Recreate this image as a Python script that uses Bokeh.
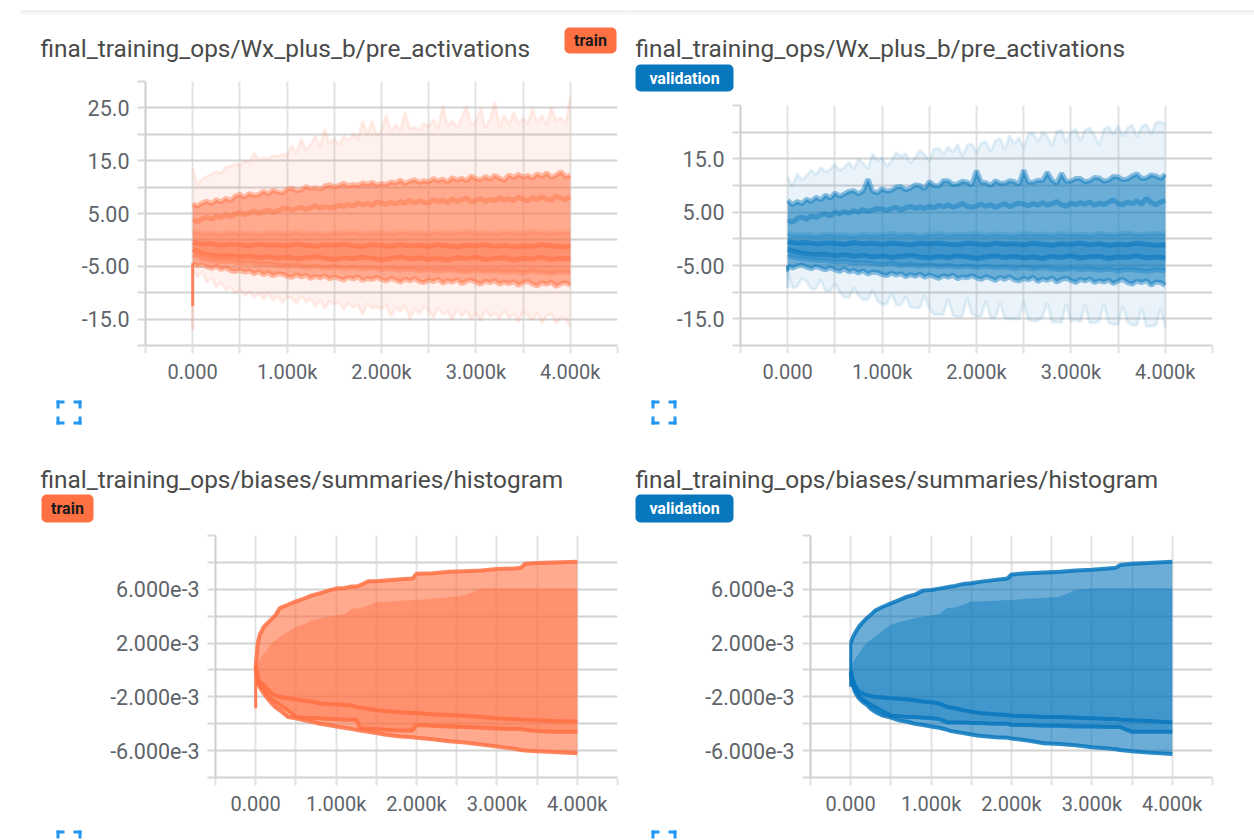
from bokeh.plotting import figure
from bokeh.layouts import column, row
from bokeh.models import FixedTicker, Label, BoxAnnotation, Range1d
from bokeh.embed import file_html
from bokeh.resources import INLINE

TITLE_ACT = "final_training_ops/Wx_plus_b/pre_activations"
TITLE_BIAS = "final_training_ops/biases/summaries/histogram"
ORANGE = "#ff7043"
BLUE = "#0877bd"

X_TICKS = [-500, 0, 500, 1000, 1500, 2000, 2500, 3000, 3500, 4000, 4500]
X_LABELS = {0: "0.000", 1000: "1.000k", 2000: "2.000k", 3000: "3.000k", 4000: "4.000k"}
Y_ACT_TICKS_T = [-20, -15, -10, -5, 0, 5, 10, 15, 20, 25, 30]
Y_ACT_TICKS_V = [-20, -15, -10, -5, 0, 5, 10, 15, 20, 25]
Y_ACT_LABELS = {25: "25.0", 15: "15.0", 5: "5.00", -5: "-5.00", -15: "-15.0"}
Y_ACT_LABELS_V = {15: "15.0", 5: "5.00", -5: "-5.00", -15: "-15.0"}
Y_BIAS_TICKS = [-8e-3, -6e-3, -4e-3, -2e-3, 0, 2e-3, 4e-3, 6e-3, 8e-3, 10e-3]
Y_BIAS_LABELS = {6e-3: "6.000e-3", 2e-3: "2.000e-3", -2e-3: "-2.000e-3", -6e-3: "-6.000e-3"}

STEP100 = list(range(0, 4001, 100))
STEP50 = list(range(0, 4001, 50))

# pre_activations, train
T_MAX = [13.5,10.5,11.5,12.0,12.5,13.0,12.6,13.8,14.0,14.4,
         14.1,15.0,14.6,16.5,15.2,15.6,15.3,16.0,15.8,16.2,
         16.0,17.9,16.4,19.2,17.0,18.0,19.8,17.6,21.0,18.2,
         19.2,18.0,19.6,18.8,20.2,19.0,22.5,20.0,22.6,19.6,
         20.8,23.8,20.4,21.8,20.6,24.3,21.0,21.4,20.8,22.0,
         21.4,22.8,21.0,25.5,21.6,22.6,21.2,23.2,25.4,21.8,
         22.4,25.0,21.2,22.8,26.2,21.4,23.6,21.8,24.2,22.0,
         23.0,22.0,24.8,22.2,23.6,21.8,25.2,22.4,23.2,21.9,27.0]
T_P93 = [6.8,6.4,7.0,7.3,6.9,7.6,7.2,7.9,7.4,8.3,8.6,8.1,8.8,8.4,8.6,9.2,8.7,9.4,9.1,8.9,
         9.6,9.8,9.3,9.5,10.1,9.7,9.9,9.6,10.2,10.4,10.1,10.3,10.7,10.2,10.5,10.3,10.8,10.5,10.9,10.4,
         10.7,10.5,11.0,10.8,11.3,10.7,11.1,11.4,10.9,11.2,11.0,11.6,11.2,11.5,11.0,11.8,11.3,11.7,11.2,12.1,
         11.6,11.4,12.0,11.5,12.2,11.7,11.3,12.3,11.8,12.4,11.9,12.2,11.7,12.5,12.0,12.7,11.8,12.3,12.9,12.0,12.2]
T_P84 = [3.8,3.4,4.0,4.3,3.9,4.5,4.2,4.8,4.4,4.9,5.2,4.8,5.1,5.5,5.0,5.4,5.7,5.2,5.5,5.9,
         6.0,5.6,5.9,6.2,5.8,6.1,6.5,6.0,6.3,6.1,6.2,6.6,6.3,6.7,6.4,7.0,6.6,6.9,6.5,7.2,
         7.0,6.7,7.1,6.8,7.3,6.9,7.5,7.0,7.4,7.1,7.0,7.6,7.2,7.5,7.1,7.8,7.3,7.6,7.9,7.2,
         7.5,7.8,7.3,7.7,7.4,8.0,7.5,7.8,7.4,8.1,7.7,7.4,8.0,7.6,8.2,7.7,7.5,8.3,7.9,7.6,8.2]
T_P69 = [1.6,1.2,1.3,1.1,1.4,1.2,1.3,1.1,1.4,1.3,1.2,1.5,1.2,1.3,1.1,1.4,1.3,1.5,1.2,1.3,
         1.4,1.2,1.5,1.3,1.4,1.2,1.5,1.3,1.4,1.6,1.3,1.4,1.2,1.5,1.4,1.3,1.6,1.4,1.3,1.5,1.4]
T_P50 = [-0.4,-0.8,-0.7,-1.0,-0.8,-0.9,-1.1,-0.8,-1.0,-0.9,-1.1,-0.8,-1.0,-1.2,-0.9,-1.0,-0.8,-1.1,-1.2,-0.9,
         -1.0,-1.2,-0.9,-1.1,-1.0,-1.2,-0.9,-1.1,-1.3,-1.0,-1.1,-0.9,-1.2,-1.0,-1.3,-1.1,-1.2,-0.9,-1.1,-1.3,-1.2]
T_P31 = [-1.8,-2.6,-2.9,-3.1,-3.0,-3.3,-3.1,-3.4,-3.2,-3.5,-3.3,-3.6,-3.4,-3.2,-3.5,-3.7,-3.4,-3.6,-3.3,-3.5,
         -3.8,-3.5,-3.3,-3.6,-3.4,-3.7,-3.5,-3.8,-3.4,-3.6,-3.3,-3.7,-3.5,-3.4,-3.8,-3.5,-3.6,-3.3,-3.7,-3.5,-3.6]
T_P16 = [-2.9,-3.6,-3.9,-4.1,-4.0,-4.4,-4.2,-4.6,-4.5,-4.8,-5.0,-4.8,-5.2,-5.0,-5.3,-5.1,-5.4,-5.2,-5.5,-5.3,
         -5.6,-5.4,-5.7,-5.5,-5.8,-5.6,-5.9,-5.6,-5.8,-6.0,-5.7,-6.0,-5.8,-6.1,-5.9,-6.2,-5.9,-6.1,-6.3,-6.0,-6.2]
T_P7 = [-4.4,-4.9,-4.7,-5.1,-5.4,-5.0,-5.6,-5.3,-5.8,-6.0,-5.7,-6.1,-5.9,-6.4,-6.0,-6.6,-6.2,-6.8,-6.4,-6.5,
        -6.9,-7.1,-6.6,-7.0,-6.7,-7.3,-6.9,-7.2,-6.8,-7.4,-7.0,-7.3,-7.6,-7.1,-7.4,-7.0,-7.7,-7.3,-7.5,-7.1,
        -7.5,-7.8,-7.3,-7.6,-8.0,-7.4,-7.8,-7.3,-7.9,-8.1,-7.6,-7.9,-7.4,-8.2,-7.7,-8.0,-7.5,-8.3,-7.8,-7.6,
        -8.0,-8.4,-7.8,-8.1,-7.7,-8.4,-8.0,-8.3,-7.9,-8.6,-8.1,-7.8,-8.4,-8.7,-8.1,-8.4,-8.0,-8.8,-8.3,-8.1,-8.6]
T_MIN = [-5.5,-7.0,-6.0,-8.0,-7.2,-9.0,-8.0,-9.6,-8.8,-10.2,
         -9.4,-10.6,-9.8,-10.9,-10.1,-11.2,-10.0,-11.5,-10.6,-11.9,
         -10.8,-11.0,-12.0,-10.6,-11.8,-11.2,-12.6,-11.4,-13.0,-11.6,
         -12.2,-11.8,-13.2,-11.9,-12.8,-12.2,-14.2,-12.0,-13.0,-12.6,
         -13.2,-12.2,-14.6,-12.8,-13.6,-12.4,-15.0,-13.0,-14.0,-12.6,
         -13.4,-14.8,-12.8,-14.2,-13.6,-15.2,-13.0,-14.4,-13.4,-15.0,
         -13.8,-15.4,-13.2,-14.6,-13.8,-15.0,-13.4,-14.8,-14.0,-15.6,
         -13.6,-14.4,-15.2,-13.8,-15.8,-14.4,-14.0,-15.9,-14.6,-15.0,-16.4]
T_SPIKE_P7 = -12.5
T_SPIKE_MIN = -17.0

# pre_activations, validation
V_MAX = [11.6,9.8,12.2,11.0,11.8,12.9,12.0,13.4,12.6,13.0,14.0,12.8,13.4,14.4,13.0,15.0,14.2,13.2,16.0,14.6,
         15.2,13.6,14.6,16.2,15.4,16.0,14.2,15.2,16.6,15.8,14.6,16.8,17.0,15.8,17.2,16.2,17.8,15.4,17.5,17.8,
         16.2,17.9,18.2,16.4,18.4,18.8,16.6,19.4,17.8,19.0,17.0,19.6,19.8,18.2,20.0,19.2,17.4,20.2,20.4,18.0,
         20.0,20.6,18.4,20.4,20.8,19.4,17.6,20.6,21.0,19.6,21.2,19.2,20.8,21.4,19.0,21.0,21.5,19.6,21.8,21.9,21.5]
V_P93 = [7.2,6.4,7.0,6.6,7.4,7.0,7.8,7.3,8.2,7.6,8.6,8.0,8.4,8.9,9.0,8.4,9.0,11.2,8.9,8.6,
         9.4,8.9,9.1,9.7,9.8,9.2,9.5,10.1,10.0,9.4,10.7,10.0,9.9,10.9,10.9,10.2,10.3,10.8,10.6,10.1,
         12.8,10.6,10.5,10.0,10.9,10.4,10.4,10.9,10.7,10.2,12.9,10.6,10.6,11.0,10.9,12.5,11.0,10.4,12.3,10.8,
         10.8,11.3,11.3,10.7,10.9,11.5,11.4,10.8,11.0,11.7,11.6,11.1,11.2,11.8,12.2,11.3,11.4,12.0,11.8,11.3,12.1]
V_P84 = [3.5,3.1,3.8,4.1,3.7,4.3,4.0,4.5,4.7,4.3,5.0,4.7,5.1,4.8,5.3,5.0,5.5,5.1,5.4,5.7,
         5.6,5.3,5.7,5.9,5.4,5.8,6.1,5.7,6.0,5.7,6.1,5.8,6.3,6.0,6.4,5.9,6.2,6.6,6.1,5.9,
         6.2,6.5,6.1,6.4,5.9,6.3,6.6,6.0,6.4,6.7,6.5,6.2,6.6,6.3,6.8,6.3,6.6,7.0,6.4,6.1,
         6.7,6.4,6.8,6.5,6.9,6.3,6.7,6.4,6.9,7.3,6.6,6.4,6.9,6.6,7.1,6.5,7.6,6.8,6.4,6.9,7.2]
V_P69 = [1.0,0.7,0.8,0.6,0.9,0.7,0.8,0.6,0.9,0.7,0.8,1.0,0.7,0.9,0.6,0.8,1.0,0.7,0.9,0.8,
         1.0,0.7,0.9,0.8,0.7,1.0,0.8,0.9,0.7,1.0,0.8,0.9,0.7,1.0,0.8,0.9,1.1,0.8,0.9,1.0,0.9]
V_P50 = [-0.5,-0.8,-0.7,-0.9,-0.8,-0.8,-1.0,-0.7,-0.9,-0.8,-1.0,-0.8,-0.9,-1.1,-0.8,-0.9,-0.8,-1.0,-1.1,-0.8,
         -0.9,-1.1,-0.8,-1.0,-0.9,-1.1,-0.8,-1.0,-1.2,-0.9,-1.0,-0.8,-1.1,-0.9,-1.2,-1.0,-1.1,-0.8,-1.0,-1.2,-1.1]
V_P31 = [-2.0,-2.5,-2.8,-3.0,-2.9,-3.2,-3.0,-3.3,-3.1,-3.4,-3.2,-3.5,-3.3,-3.1,-3.4,-3.6,-3.3,-3.5,-3.2,-3.4,
         -3.7,-3.4,-3.2,-3.5,-3.3,-3.6,-3.4,-3.7,-3.3,-3.5,-3.2,-3.6,-3.4,-3.3,-3.7,-3.4,-3.5,-3.2,-3.6,-3.4,-3.6]
V_P16 = [-3.2,-3.6,-3.8,-4.0,-4.0,-4.3,-4.2,-4.5,-4.4,-4.6,-4.8,-4.6,-5.0,-4.8,-5.1,-4.9,-5.2,-5.0,-5.3,-5.1,
         -5.4,-5.2,-5.4,-5.3,-5.6,-5.3,-5.6,-5.4,-5.6,-5.8,-5.5,-5.8,-5.6,-5.9,-5.7,-6.0,-5.7,-5.9,-6.1,-5.8,-6.0]
V_P7 = [-5.0,-5.5,-5.1,-4.9,-5.3,-5.6,-5.2,-5.5,-5.8,-5.4,-5.8,-6.1,-5.6,-6.2,-5.9,-6.4,-6.0,-6.6,-6.2,-6.3,
        -6.7,-6.9,-6.4,-6.8,-6.5,-7.1,-6.7,-7.0,-6.6,-7.2,-6.8,-7.1,-7.4,-6.9,-7.2,-6.8,-7.5,-7.1,-7.3,-6.9,
        -7.3,-7.6,-7.1,-7.4,-7.8,-7.2,-7.6,-7.1,-7.7,-7.9,-7.4,-7.7,-7.2,-8.0,-7.5,-7.8,-7.3,-8.1,-7.6,-7.4,
        -7.8,-8.2,-7.6,-7.9,-7.5,-8.2,-7.8,-8.1,-7.7,-8.4,-7.9,-7.6,-8.2,-8.5,-7.9,-8.2,-7.8,-8.7,-8.1,-8.2,-8.7]
V_MIN = [-6.0,-9.2,-9.0,-7.4,-8.0,-9.4,-9.4,-7.6,-9.8,-9.8,-8.4,-9.9,-11.0,-11.0,-9.2,-10.6,-11.4,-11.4,-9.6,-11.6,
         -12.3,-12.3,-10.2,-12.4,-12.4,-10.8,-12.8,-12.9,-12.9,-10.6,-13.0,-14.2,-14.2,-14.2,-11.2,-14.4,-14.6,-14.6,-11.0,-14.0,
         -14.6,-14.5,-11.6,-14.8,-14.8,-12.0,-14.9,-15.0,-15.0,-15.1,-11.8,-15.2,-15.4,-15.4,-14.6,-12.0,-15.6,-15.6,-15.8,-12.2,
         -15.4,-15.2,-15.6,-12.4,-15.8,-15.8,-15.4,-12.2,-15.8,-16.0,-16.0,-12.6,-15.6,-16.2,-16.2,-13.0,-16.4,-16.4,-16.2,-13.0,-16.6]
V_SPIKE_P7 = -6.1
V_SPIKE_MIN = -9.2

# biases histogram, in units of 1e-3
H_X = [0,25,50,100,150,200,250,300,400,500,600,700,800,900,1000,1100,1200,1250,1300,1400,
       1500,1600,1800,1950,2000,2200,2400,2600,2800,3000,3200,3300,3350,3500,3700,4000]
HT_TOP = [0.3,2.0,2.6,3.2,3.5,3.8,4.1,4.6,4.85,5.1,5.3,5.55,5.7,5.9,6.05,6.1,6.2,6.2,6.3,6.6,
          6.6,6.65,6.75,6.8,7.15,7.2,7.3,7.35,7.4,7.5,7.55,7.6,7.9,7.95,8.0,8.05]
HT_IN = [0.0,0.5,0.8,1.2,1.6,2.0,2.2,2.45,2.85,3.2,3.4,3.7,3.8,3.95,4.07,4.15,4.55,4.55,4.6,4.8,
         5.05,5.05,5.15,5.2,5.2,5.3,5.4,5.55,6.05,6.05,6.05,6.05,6.05,6.05,6.05,6.05]
HT_LOW1 = [0.3,-0.6,-0.9,-1.1,-1.45,-1.75,-1.9,-2.0,-2.1,-2.2,-2.3,-2.35,-2.5,-2.55,-2.55,-2.6,-2.65,-2.75,-2.8,-2.9,
           -3.0,-3.05,-3.15,-3.2,-3.2,-3.3,-3.35,-3.4,-3.5,-3.6,-3.65,-3.7,-3.7,-3.75,-3.8,-3.85]
HT_LOW2 = [0.3,-0.7,-1.1,-1.5,-1.9,-2.2,-2.4,-2.6,-3.0,-3.5,-3.55,-3.6,-3.6,-3.65,-3.65,-3.7,-3.7,-3.7,-4.35,-4.4,
           -4.4,-4.45,-4.5,-4.5,-4.1,-4.15,-4.2,-4.25,-4.3,-4.35,-4.4,-4.4,-4.45,-4.55,-4.6,-4.6]
HT_BOT = [0.3,-0.9,-1.3,-1.75,-2.15,-2.5,-2.8,-3.0,-3.5,-3.6,-3.75,-3.85,-4.0,-4.1,-4.2,-4.3,-4.4,-4.45,-4.5,-4.6,
          -4.7,-4.8,-4.95,-5.0,-5.05,-5.15,-5.3,-5.4,-5.55,-5.7,-5.85,-5.95,-6.0,-6.05,-6.1,-6.2]
HT_SPIKE = -2.85
HV_TOP = [2.0,2.4,2.7,3.2,3.55,3.85,4.1,4.4,4.7,4.95,5.2,5.45,5.6,5.9,5.95,6.05,6.15,6.2,6.25,6.4,
          6.45,6.55,6.7,6.8,7.1,7.2,7.25,7.3,7.4,7.45,7.55,7.6,7.8,7.9,7.95,8.05]
HV_IN = [0.1,0.5,0.8,1.2,1.65,2.0,2.25,2.45,2.95,3.35,3.55,3.7,3.85,3.95,4.05,4.15,4.6,4.6,4.65,4.85,
         5.1,5.1,5.15,5.2,5.2,5.3,5.35,5.45,5.95,6.05,6.05,6.05,6.05,6.05,6.05,6.05]
HV_LOW1 = [-0.1,-0.7,-1.1,-1.6,-1.75,-1.85,-1.95,-2.0,-2.05,-2.1,-2.15,-2.2,-2.25,-2.35,-2.4,-2.5,-2.75,-2.8,-2.85,-3.0,
           -3.1,-3.2,-3.3,-3.35,-3.4,-3.45,-3.5,-3.5,-3.55,-3.6,-3.65,-3.65,-3.7,-3.75,-3.8,-3.9]
HV_LOW2 = [-0.2,-0.9,-1.4,-1.9,-2.2,-2.4,-2.6,-2.75,-3.1,-3.4,-3.45,-3.5,-3.5,-3.55,-3.6,-3.65,-3.9,-3.9,-3.9,-3.9,
           -3.95,-3.95,-4.0,-4.0,-4.1,-4.1,-4.15,-4.15,-4.2,-4.2,-4.25,-4.25,-4.25,-4.6,-4.6,-4.6]
HV_BOT = [-0.3,-1.1,-1.6,-2.1,-2.4,-2.6,-2.9,-3.1,-3.4,-3.55,-3.75,-3.85,-4.0,-4.1,-4.2,-4.3,-4.45,-4.55,-4.6,-4.7,
          -4.8,-4.9,-5.0,-5.05,-5.1,-5.25,-5.45,-5.5,-5.6,-5.75,-5.85,-5.9,-5.95,-6.05,-6.15,-6.25]
HV_SPIKE = -1.25


def make(left, frame_w, right, frame_h, bottom, y0, y1, y_ticks, y_labels):
    p = figure(output_backend="svg", toolbar_location=None,
               frame_width=frame_w, frame_height=frame_h,
               min_border_left=left, min_border_right=right,
               min_border_top=2, min_border_bottom=bottom,
               x_range=Range1d(-500, 4500), y_range=Range1d(y0, y1),
               outline_line_color=None)
    p.xaxis.ticker = FixedTicker(ticks=X_TICKS)
    p.yaxis.ticker = FixedTicker(ticks=y_ticks)
    p.xaxis.major_label_overrides = {t: X_LABELS.get(t, "") for t in X_TICKS}
    p.yaxis.major_label_overrides = {t: y_labels.get(t, "") for t in y_ticks}
    p.xgrid.ticker = FixedTicker(ticks=X_TICKS)
    p.ygrid.ticker = FixedTicker(ticks=y_ticks)
    p.xgrid.grid_line_color = "#e2e2e2"
    p.xgrid.grid_line_width = 2
    p.ygrid.grid_line_color = "#d2d2d2"
    p.ygrid.grid_line_width = 2
    for ax, c in ((p.xaxis, "#e2e2e2"), (p.yaxis, "#d8d8d8")):
        ax.major_tick_in = 0
        ax.major_tick_out = 8
        ax.minor_tick_in = 0
        ax.minor_tick_out = 0
        ax.major_tick_line_color = c
        ax.major_tick_line_width = 2
        ax.major_label_text_font = "Roboto"
        ax.major_label_text_color = "#60646a"
    p.xaxis.major_label_text_font_size = "20px"
    p.yaxis.major_label_text_font_size = "21.5px"
    p.xaxis.major_label_standoff = 6
    p.yaxis.major_label_standoff = 8
    p.xaxis.axis_line_color = "#d2d2d2"
    p.xaxis.axis_line_width = 2
    p.yaxis.axis_line_color = "#cdcdcd"
    p.yaxis.axis_line_width = 2
    return p


def chrome(w, h):
    """A figure whose frame is the whole strip: data units are pixels, y downwards."""
    p = figure(output_backend="svg", toolbar_location=None, width=w, height=h, min_border=0,
               x_range=Range1d(0, w), y_range=Range1d(h, 0),
               x_axis_type=None, y_axis_type=None, outline_line_color=None)
    p.grid.visible = False
    return p


def add_box(p, l, t, r, b, color, radius=0):
    p.add_layout(BoxAnnotation(left=l, right=r, top=t, bottom=b,
                               fill_color=color, fill_alpha=1, line_color=None,
                               border_radius=radius, level="underlay"))


def add_text(p, x, y, txt, size, color, weight="normal", align="left"):
    p.add_layout(Label(x=x, y=y, text=txt, text_font="Roboto", text_font_size=size,
                       text_color=color, text_font_style=weight, text_align=align,
                       text_baseline="middle"))


def add_badge(p, l, t, r, b, txt, color, text_color):
    add_box(p, l, t, r, b, color, radius=5)
    add_text(p, (l + r) / 2, (t + b) / 2, txt, "16px", text_color, "bold", "center")


def add_icon(p, l, t):
    c = "#2196f3"
    w, h, arm, th = 25, 24, 8, 3
    corners = [(l, t, 1, 1), (l + w, t, -1, 1), (l, t + h, 1, -1), (l + w, t + h, -1, -1)]
    for cx, cy, dx, dy in corners:
        x2, y2 = cx + dx * arm, cy + dy * arm
        add_box(p, min(cx, x2), min(cy, cy + dy * th), max(cx, x2), max(cy, cy + dy * th), c)
        add_box(p, min(cx, cx + dx * th), min(cy, y2), max(cx, cx + dx * th), max(cy, y2), c)


def draw_act(p, color, mx, p93, p84, p69, p50, p31, p16, p7, mn, sp7, spmin):
    p.varea(STEP50, mn, mx, fill_color=color, fill_alpha=0.09)
    p.varea(STEP50, p7, p93, fill_color=color, fill_alpha=0.56)
    p.varea(STEP100, p16, p69, fill_color=color, fill_alpha=0.28)
    p.varea(STEP100, p31, p50, fill_color=color, fill_alpha=0.22)
    p.line(STEP50, mx, line_color=color, line_alpha=0.10, line_width=3)
    p.line(STEP50, mn, line_color=color, line_alpha=0.10, line_width=3)
    p.line([0, 0], [spmin, mn[0]], line_color=color, line_alpha=0.2, line_width=3)
    p.line([0, 0], [sp7, p7[0]], line_color=color, line_alpha=0.8, line_width=3)
    for s, a in ((p93, 0.45), (p84, 0.45), (p7, 0.45)):
        p.line(STEP50, s, line_color=color, line_alpha=a, line_width=5)
    for s, a in ((p69, 0.2), (p50, 0.6), (p31, 0.6), (p16, 0.35)):
        p.line(STEP100, s, line_color=color, line_alpha=a, line_width=5)


def draw_hist(p, color, top, inner, low1, low2, bot, spike, top_start):
    sc = 1e-3
    top, inner, low1, low2, bot = ([v * sc for v in s] for s in (top, inner, low1, low2, bot))
    p.varea(H_X, bot, top, fill_color=color, fill_alpha=0.6)
    p.varea(H_X, low2, inner, fill_color=color, fill_alpha=0.42)
    p.line([0, 0], [spike * sc, top_start * sc], line_color=color, line_alpha=0.9, line_width=3)
    for s in (top, low1, low2, bot):
        p.line(H_X, s, line_color=color, line_alpha=0.85, line_width=4)


p1 = make(145, 472, 9, 264, 45, -20, 30, Y_ACT_TICKS_T, Y_ACT_LABELS)
p2 = make(114, 472, 42, 240, 45, -20, 25, Y_ACT_TICKS_V, Y_ACT_LABELS_V)
p3 = make(215, 402, 9, 242, 43, -8e-3, 10e-3, Y_BIAS_TICKS, Y_BIAS_LABELS)
p4 = make(184, 402, 42, 242, 43, -8e-3, 10e-3, Y_BIAS_TICKS, Y_BIAS_LABELS)

draw_act(p1, ORANGE, T_MAX, T_P93, T_P84, T_P69, T_P50, T_P31, T_P16, T_P7, T_MIN, T_SPIKE_P7, T_SPIKE_MIN)
draw_act(p2, BLUE, V_MAX, V_P93, V_P84, V_P69, V_P50, V_P31, V_P16, V_P7, V_MIN, V_SPIKE_P7, V_SPIKE_MIN)
draw_hist(p3, ORANGE, HT_TOP, HT_IN, HT_LOW1, HT_LOW2, HT_BOT, HT_SPIKE, 0.3)
draw_hist(p4, BLUE, HV_TOP, HV_IN, HV_LOW1, HV_LOW2, HV_BOT, HV_SPIKE, 2.0)

h1 = chrome(626, 79)
h2 = chrome(628, 103)
h3 = chrome(626, 95)
h4 = chrome(628, 95)
f1 = chrome(626, 48)
f2 = chrome(628, 48)
f3 = chrome(626, 20)
f4 = chrome(628, 20)

add_box(h1, 20, 10, 626, 12, "#ececec")
add_box(h1, 20, 12, 626, 14, "#f6f6f6")
add_box(h2, 0, 10, 628, 12, "#ececec")
add_box(h2, 0, 12, 628, 14, "#f6f6f6")
add_text(h1, 40, 48, TITLE_ACT, "24.4px", "#4a4a4a")
add_text(h2, 9, 48, TITLE_ACT, "24.4px", "#4a4a4a")
add_text(h3, 40, 41, TITLE_BIAS, "24.4px", "#4a4a4a")
add_text(h4, 9, 41, TITLE_BIAS, "24.4px", "#4a4a4a")
add_badge(h1, 564, 27, 616, 53, "train", ORANGE, "#1a1a1a")
add_badge(h2, 9, 64, 107, 91, "validation", BLUE, "#ffffff")
add_badge(h3, 41, 56, 93, 84, "train", ORANGE, "#1a1a1a")
add_badge(h4, 9, 56, 107, 84, "validation", BLUE, "#ffffff")
add_icon(f1, 56, 10)
add_icon(f2, 25, 10)
add_icon(f3, 56, 10)
add_icon(f4, 25, 10)


def cell(*figs):
    return column(*[column(f) for f in figs])


page = column(row(cell(h1, p1, f1), cell(h2, p2, f2)), row(cell(h3, p3, f3), cell(h4, p4, f4)))
open("out.html", "w").write(file_html(page, INLINE))
